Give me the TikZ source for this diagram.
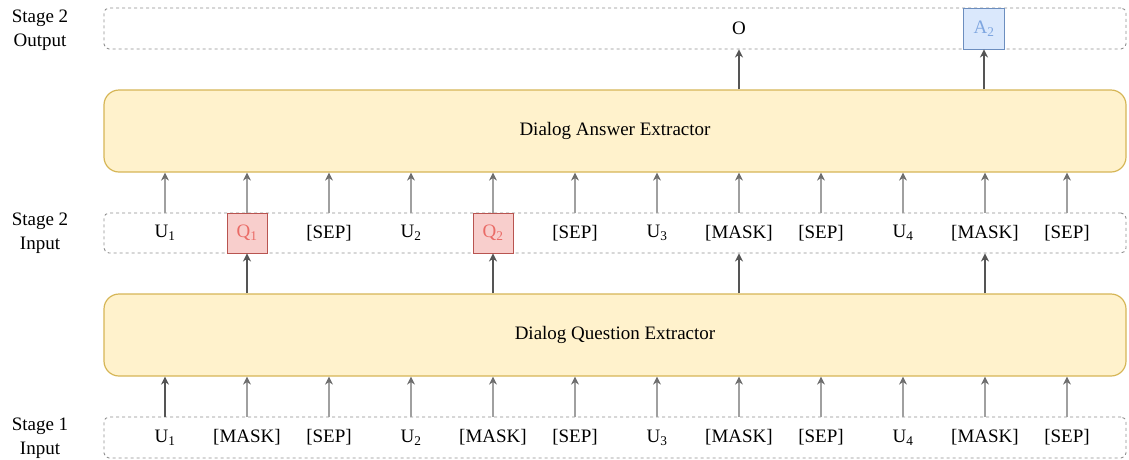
\documentclass[tikz,border=0pt]{standalone}
\usepackage{fontspec}
\setmainfont{Liberation Serif}
\usetikzlibrary{arrows.meta}
\definecolor{ybg}{HTML}{FFF2CC}
\definecolor{ybd}{HTML}{D6B656}
\definecolor{rbg}{HTML}{F8CECC}
\definecolor{rbd}{HTML}{B85450}
\definecolor{rtx}{HTML}{EA6B66}
\definecolor{bbg}{HTML}{DAE8FC}
\definecolor{bbd}{HTML}{6C8EBF}
\definecolor{btx}{HTML}{7EA6E0}
\definecolor{dk}{HTML}{555555}
\definecolor{lt}{HTML}{A0A0A0}
\definecolor{dsh}{HTML}{8F8F8F}
\tikzset{
  every node/.style={font=\fontsize{19}{23}\selectfont, inner sep=0pt},
  rowbox/.style={draw=dsh, line width=0.9pt, dash pattern=on 3pt off 3pt, rounded corners=5pt, minimum width=1022pt, minimum height=41pt},
  extbox/.style={draw=ybd, fill=ybg, line width=1.2pt, rounded corners=15pt, minimum width=1022pt, minimum height=82pt},
  tok/.style={anchor=center},
  qbox/.style={draw=rbd, fill=rbg, text=rtx, line width=0.9pt, minimum width=40pt, minimum height=40pt},
  abox/.style={draw=bbd, fill=bbg, text=btx, line width=0.9pt, minimum width=41pt, minimum height=41pt},
  darr/.style={draw=dk, line width=1.6pt, -{Stealth[length=8pt,width=8pt,inset=2.5pt,color=dk]}},
  larr/.style={draw=lt, line width=1.3pt, -{Stealth[length=8pt,width=8pt,inset=2.5pt,color=dk!85]}},
  slabel/.style={align=center, font=\fontsize{19}{24}\selectfont}
}
\begin{document}
\begin{tikzpicture}[x=1pt,y=-1pt]
\useasboundingbox (0,0) rectangle (1129,459);
% row boxes
\node[rowbox] (outbox) at (615,28.5) {};
\node[extbox] (ae) at (615,131) {Dialog Answer Extractor};
\node[rowbox, minimum height=40pt] (s2box) at (615,233) {};
\node[extbox] (qe) at (615,335) {Dialog Question Extractor};
\node[rowbox] (s1box) at (615,437.5) {};
% stage labels
\node[slabel] (l1) at (40,30) {Stage 2\\Output};
\node[slabel] (l2) at (40,233) {Stage 2\\Input};
\node[slabel] (l3) at (40,438) {Stage 1\\Input};
% stage 1 tokens
\foreach \i/\t in {1/U\textsubscript{1},2/[MASK],3/[SEP],4/U\textsubscript{2},5/[MASK],6/[SEP],7/U\textsubscript{3},8/[MASK],9/[SEP],10/U\textsubscript{4},11/[MASK],12/[SEP]}{
  \node[tok] (a\i) at ({165+82*(\i-1)},437.5) {\t};
}
% stage 2 tokens
\foreach \i/\t in {1/U\textsubscript{1},3/[SEP],4/U\textsubscript{2},6/[SEP],7/U\textsubscript{3},8/[MASK],9/[SEP],10/U\textsubscript{4},11/[MASK],12/[SEP]}{
  \node[tok] (b\i) at ({165+82*(\i-1)},233) {\t};
}
\node[qbox] (b2) at (247,233) {Q\textsubscript{1}};
\node[qbox] (b5) at (493,233) {Q\textsubscript{2}};
% outputs
\node[tok] (o) at (739,28.5) {O};
\node[abox] (a2out) at (984,28.5) {A\textsubscript{2}};
% stage 1 -> question extractor
\draw[darr] (a1 |- s1box.north) -- (a1 |- qe.south);
\foreach \i in {2,...,12}{
  \draw[larr] (a\i |- s1box.north) -- (a\i |- qe.south);
}
% question extractor -> stage 2
\draw[darr] (qe.north -| b2) -- (b2.south);
\draw[darr] (qe.north -| b5) -- (b5.south);
\draw[darr] (qe.north -| b8) -- (b8 |- s2box.south);
\draw[darr] (qe.north -| b11) -- (b11 |- s2box.south);
% stage 2 -> answer extractor
\foreach \i in {1,3,4,6,7,8,9,10,11,12}{
  \draw[larr] (b\i |- s2box.north) -- (b\i |- ae.south);
}
\draw[larr] (b2.north) -- (b2 |- ae.south);
\draw[larr] (b5.north) -- (b5 |- ae.south);
% answer extractor -> output
\draw[darr] (ae.north -| o) -- (o |- outbox.south);
\draw[darr] (ae.north -| a2out) -- (a2out.south);
\end{tikzpicture}
\end{document}
